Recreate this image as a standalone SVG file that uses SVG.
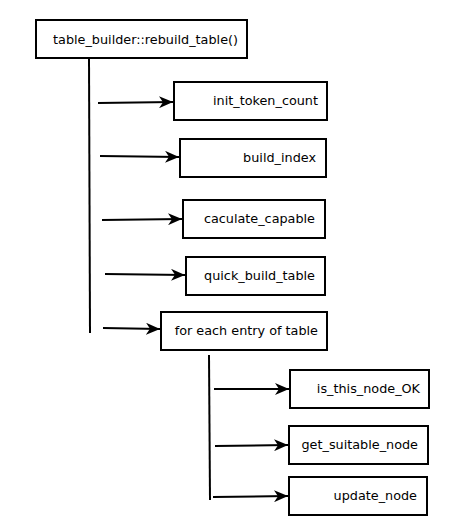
<svg xmlns="http://www.w3.org/2000/svg" width="461" height="526" viewBox="0 0 461 526">
<style>
.b{fill:#fff;stroke:#000;stroke-width:2}
text{font-family:"DejaVu Sans",sans-serif;font-size:12.8px;fill:#000;text-anchor:end}
.c line{stroke:#000;stroke-width:2}
.c .a{marker-end:url(#ah)}
</style>
<defs>
<marker id="ah" markerUnits="userSpaceOnUse" markerWidth="16" markerHeight="12" refX="14" refY="6" orient="auto">
<path d="M0,0 L14,6 L0,12 L4,6 Z" fill="#000"/>
</marker>
</defs>
<rect width="461" height="526" fill="#fff"/>
<g id="n0"><rect class="b" x="36" y="20" width="211" height="38"/><text x="238" y="44">table_builder::rebuild_table()</text></g>
<g id="n1"><rect class="b" x="174" y="82" width="153" height="38"/><text x="318" y="105">init_token_count</text></g>
<g id="n2"><rect class="b" x="180" y="139" width="146" height="38"/><text x="316" y="162">build_index</text></g>
<g id="n3"><rect class="b" x="183" y="200" width="142" height="38"/><text x="315" y="223">caculate_capable</text></g>
<g id="n4"><rect class="b" x="186" y="257" width="139" height="38"/><text x="315" y="280">quick_build_table</text></g>
<g id="n5"><rect class="b" x="161" y="312" width="166" height="38"/><text x="318" y="335">for each entry of table</text></g>
<g id="n6"><rect class="b" x="290" y="370" width="139" height="38"/><text x="420" y="393">is_this_node_OK</text></g>
<g id="n7"><rect class="b" x="289" y="426" width="139" height="38"/><text x="418" y="449">get_suitable_node</text></g>
<g id="n8"><rect class="b" x="289" y="477" width="138" height="38"/><text x="417" y="500">update_node</text></g>
<g class="c" id="connectors">
<line x1="89" y1="58" x2="90" y2="333"/>
<line x1="209" y1="355" x2="210" y2="500"/>
<line class="a" x1="98" y1="103" x2="173" y2="102"/>
<line class="a" x1="100" y1="156" x2="179" y2="157"/>
<line class="a" x1="102" y1="220" x2="182" y2="219"/>
<line class="a" x1="105" y1="274" x2="185" y2="275"/>
<line class="a" x1="103" y1="328" x2="160" y2="329"/>
<line class="a" x1="214" y1="389" x2="289" y2="389"/>
<line class="a" x1="215" y1="446" x2="288" y2="445"/>
<line class="a" x1="213" y1="497" x2="288" y2="496"/>
</g>
</svg>
